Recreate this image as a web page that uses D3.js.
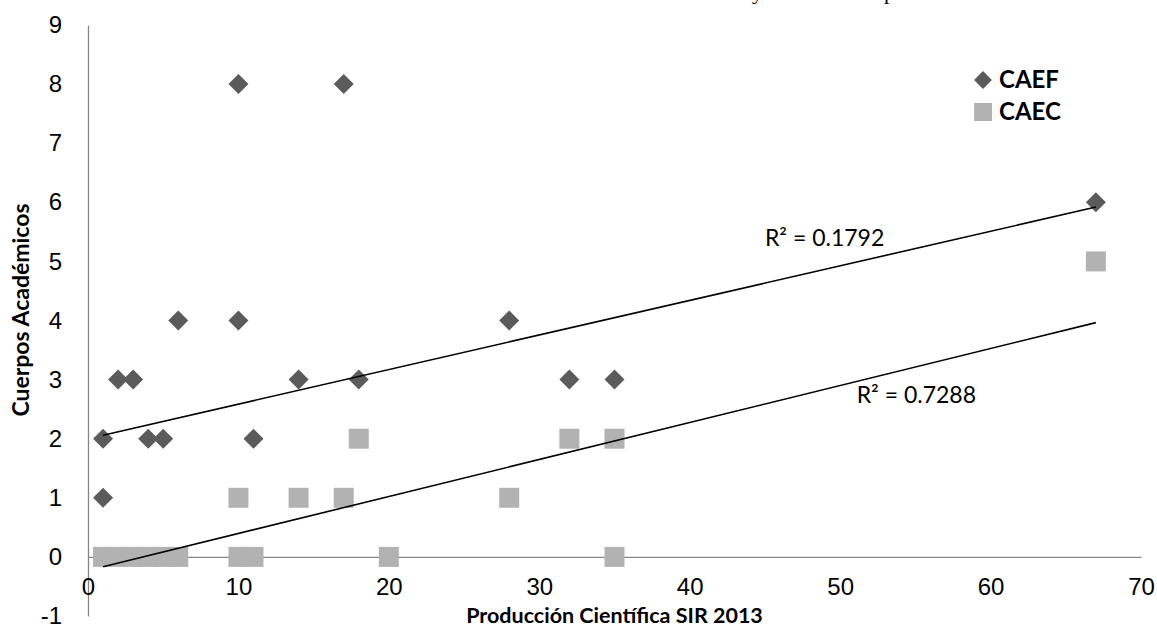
<!DOCTYPE html>
<html>
<head>
<meta charset="utf-8">
<script src="https://cdn.jsdelivr.net/npm/d3@7"></script>
<style>
  body { margin: 0; background: #fff; }
  svg { display: block; font-family: Lato, "Open Sans", sans-serif; }
</style>
</head>
<body>
<svg id="chart" width="1157" height="628"></svg>
<script>
// CAEF series (diamonds)
const caefX = [1, 1, 2, 3, 4, 5, 6, 10, 10, 11, 14, 17, 18, 28, 32, 35, 67];
const caefY = [1, 2, 3, 3, 2, 2, 4, 8, 4, 2, 3, 8, 3, 4, 3, 3, 6];
// CAEC series (squares)
const caecX = [1, 2, 3, 4, 5, 6, 10, 10, 11, 14, 17, 18, 20, 28, 32, 35, 35, 67];
const caecY = [0, 0, 0, 0, 0, 0, 1, 0, 0, 1, 1, 2, 0, 1, 2, 2, 0, 5];
// linear trendlines as shown (slope, intercept, x range)
const trendSlope = [0.0585, 0.0626];
const trendIntercept = [2.0, -0.23];
const trendFrom = [1, 1];
const trendTo = [67, 67];
const trendLabels = ["R² = 0.1792", "R² = 0.7288"];
const xTicks = [0, 10, 20, 30, 40, 50, 60, 70];
const yTicks = [-1, 0, 1, 2, 3, 4, 5, 6, 7, 8, 9];
const seriesNames = ["CAEF", "CAEC"];

const svg = d3.select('#chart');
const colors = ['#5b5b5b', '#b2b2b2'];

const x = d3.scaleLinear().domain([0, 70]).range([88, 1141]);
const y = d3.scaleLinear().domain([-1, 9]).range([616, 25]);

// cut-off text line from the page above the chart
svg.append('text').attr('x', 752).attr('y', -1)
  .style('font-family', '"Liberation Serif", serif').style('font-size', '22px')
  .text('y');
svg.append('text').attr('x', 884).attr('y', -1)
  .style('font-family', '"Liberation Serif", serif').style('font-size', '22px')
  .text('p');

// axes
let yAxis = d3.axisLeft(y).tickValues(yTicks).tickSize(0).tickPadding(26)
  .tickFormat(d => String(d));
let gy = svg.append('g')
  .attr('transform', `translate(${x(0)},0)`)
  .call(yAxis);
gy.select('.domain').attr('stroke', '#868686').attr('stroke-width', 1.3);
gy.selectAll('text').style('font-size', '24px').attr('fill', '#000');

let xAxis = d3.axisBottom(x).tickValues(xTicks).tickSize(0).tickPadding(0)
  .tickFormat(d => String(d));
let gx = svg.append('g')
  .attr('transform', `translate(0,${y(0)})`)
  .call(xAxis);
gx.select('.domain').attr('stroke', '#868686').attr('stroke-width', 1.3);
gx.selectAll('text')
  .attr('y', y(-0.51) - y(0))
  .attr('dy', '0.35em')
  .style('font-size', '24px').attr('fill', '#000');

// axis titles
svg.append('text')
  .attr('x', (x(0) + x(70)) / 2).attr('y', 623)
  .attr('text-anchor', 'middle')
  .style('font-size', '21.5px').style('font-weight', 'bold')
  .text('Producción Científica SIR 2013');

svg.append('text')
  .attr('transform', 'translate(29,310) rotate(-90)')
  .attr('text-anchor', 'middle')
  .style('font-size', '23px').style('font-weight', 'bold')
  .text('Cuerpos Académicos');

// markers
const diamond = d3.symbol().type(d3.symbolSquare).size(200);
svg.append('g').selectAll('path')
  .data(caefX.map((v, i) => [v, caefY[i]]))
  .enter().append('path')
  .attr('d', diamond)
  .attr('transform', d => `translate(${x(d[0])},${y(d[1])}) rotate(45)`)
  .attr('fill', colors[0]);

svg.append('g').selectAll('rect')
  .data(caecX.map((v, i) => [v, caecY[i]]))
  .enter().append('rect')
  .attr('x', d => x(d[0]) - 10).attr('y', d => y(d[1]) - 10)
  .attr('width', 20).attr('height', 20)
  .attr('fill', colors[1]);

// trendlines
svg.append('g').selectAll('line')
  .data(trendSlope)
  .enter().append('line')
  .attr('x1', (d, i) => x(trendFrom[i]))
  .attr('y1', (d, i) => y(trendIntercept[i] + d * trendFrom[i]))
  .attr('x2', (d, i) => x(trendTo[i]))
  .attr('y2', (d, i) => y(trendIntercept[i] + d * trendTo[i]))
  .attr('stroke', '#000').attr('stroke-width', 1.6);

const labelPos = [[45, 5.26], [51.1, 2.6]];
svg.append('g').selectAll('text')
  .data(trendLabels)
  .enter().append('text')
  .attr('x', (d, i) => x(labelPos[i][0]))
  .attr('y', (d, i) => y(labelPos[i][1]))
  .style('font-size', '23px')
  .text(d => d);

// legend
let legend = svg.append('g').attr('transform', 'translate(983,80)');
legend.append('path')
  .attr('d', d3.symbol().type(d3.symbolSquare).size(160))
  .attr('transform', 'rotate(45)')
  .attr('fill', colors[0]);
legend.append('rect')
  .attr('x', -9).attr('y', 23).attr('width', 18).attr('height', 18)
  .attr('fill', colors[1]);
legend.selectAll('text').data(seriesNames)
  .enter().append('text')
  .attr('x', 16).attr('y', (d, i) => i * 32 + 8)
  .style('font-size', '24px').style('font-weight', 'bold')
  .text(d => d);
</script>
</body>
</html>
